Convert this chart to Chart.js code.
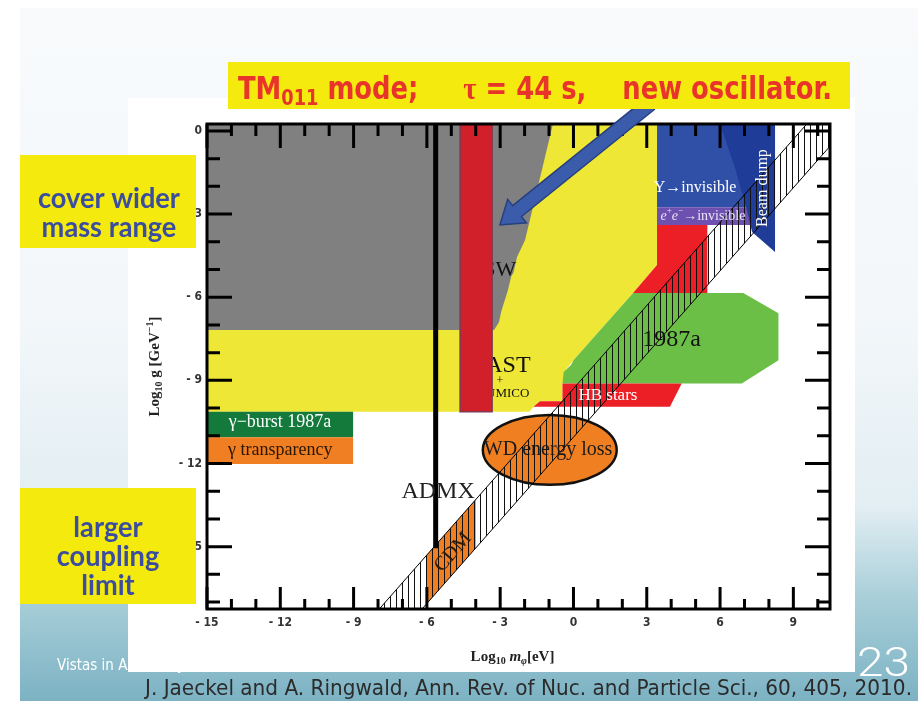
<!DOCTYPE html>
<html>
<head>
<meta charset="utf-8">
<script src="https://cdn.jsdelivr.net/npm/chart.js@4.4.1/dist/chart.umd.min.js"></script>
<style>
html, body { margin: 0; padding: 0; background: #fff; overflow: hidden; }
canvas { display: block; }
</style>
</head>
<body>
<canvas id="slide" width="918" height="701"></canvas>
<script>
// axis ranges and tick labels (log10 m [eV], log10 g [GeV^-1])
var xRange = [-15, 10.5];
var yRange = [-17.25, 0.25];
var xTicks = [-15, -12, -9, -6, -3, 0, 3, 6, 9];
var xTickLabels = ['- 15', '- 12', '- 9', '- 6', '- 3', '0', '3', '6', '9'];
var yTicks = [0, -3, -6, -9, -12, -15];
var yTickLabels = ['0', '- 3', '- 6', '- 9', '- 12', '- 15'];

// excluded regions, corners as [log10 m, log10 g]
var yellowRegion = [[-15, 0.25], [3.42, 0.25], [3.42, -4.84], [2.44, -5.85], [0, -8.27], [-0.3, -8.6], [-0.45, -9.11], [-0.45, -9.75], [-1.37, -9.75], [-1.64, -9.95], [-1.8, -10.13], [-15, -10.13]];
var lswRegion = [[-15, 0.25], [-0.84, 0.25], [-1.98, -3.94], [-2.31, -4.55], [-2.45, -5.1], [-2.55, -5.25], [-2.68, -5.74], [-2.95, -6.5], [-3.05, -6.9], [-3.25, -7.18], [-15, -7.18]];
var upsilonRegion = [[3.42, 0.25], [8.25, 0.25], [8.25, -2.75], [3.42, -2.75]];
var eeRegion = [[3.42, -2.75], [7.31, -2.75], [7.31, -3.39], [3.42, -3.39]];
var beamDump = [[6.0, 0.25], [8.25, 0.25], [8.25, -4.37], [7.31, -3.65], [7.1, -2.85], [6.6, -1.3]];
var redRegion = [[3.42, -3.39], [5.48, -3.39], [5.48, -5.85], [2.44, -5.85], [3.42, -4.84]];
var sn1987a = [[2.44, -5.85], [6.95, -5.85], [8.39, -6.58], [8.39, -8.27], [6.89, -9.11], [-0.45, -9.11], [-0.4, -8.7], [-0.1, -8.45], [0, -8.27]];
var hbStars = [[-0.45, -9.11], [4.43, -9.11], [3.95, -9.95], [-1.64, -9.95], [-1.37, -9.75], [-0.45, -9.75]];
var gammaBurst = [[-15, -10.13], [-9.02, -10.13], [-9.02, -11.05], [-15, -11.05]];
var gammaTransp = [[-15, -11.05], [-9.02, -11.05], [-9.02, -12.02], [-15, -12.02]];
var oscillator = [[-4.64, 0.25], [-3.33, 0.25], [-3.33, -10.13], [-4.64, -10.13], [-4.64, 0.25]];
var cdmRegion = [[-6, -17.05], [-6, -15.3], [-4, -13.3], [-4, -15.05]];
var axionBand = [[-9, -18.3], [11, 1.7], [13, 1.95], [-7.2, -18.25]];
var admxLine = [[-5.64, 0.25], [-5.64, -15.06]];
var wdCenter = [-0.97, -11.51];
var wdRadii = [2.74, 1.26];
var arrowFrom = [3.13, 0.97];
var arrowTo = [-3.01, -3.39];

var SERIF = '"Liberation Serif", "Times New Roman", serif';
var NARROW = '"Liberation Sans Narrow", "DejaVu Sans Condensed", "Arial Narrow", sans-serif';

var canvas = document.getElementById('slide');
var hatch = document.createElement('canvas');
hatch.width = 6; hatch.height = 6;
var hc = hatch.getContext('2d');
hc.fillStyle = '#111';
hc.fillRect(0, 0, 1, 6);
var hatchPattern = canvas.getContext('2d').createPattern(hatch, 'repeat');

// painting order, bottom first
var layers = [
  {name: 'yellow', pts: yellowRegion, color: '#efe735'},
  {name: 'LSW', pts: lswRegion, color: '#808080'},
  {name: 'Upsilon', pts: upsilonRegion, color: '#2f50a6'},
  {name: 'ee', pts: eeRegion, color: '#6d50b0'},
  {name: 'Beam dump', pts: beamDump, color: '#1f3c98'},
  {name: 'red', pts: redRegion, color: '#ec1f26'},
  {name: '1987a', pts: sn1987a, color: '#6bbf47'},
  {name: 'HB stars', pts: hbStars, color: '#ec1f26'},
  {name: 'gamma burst', pts: gammaBurst, color: '#137a3b'},
  {name: 'gamma transparency', pts: gammaTransp, color: '#f07e22'},
  {name: 'oscillator', pts: oscillator, color: '#d1202a', border: '#7d3a52', lw: 1.5},
  {name: 'CDM', pts: cdmRegion, color: '#f07e22'},
  {name: 'band', pts: axionBand, color: hatchPattern, border: '#000', lw: 1},
  {name: 'ADMX', pts: admxLine, line: true, border: '#000', lw: 5}
];

var datasets = layers.map(function (l, i) {
  return {
    label: l.name,
    data: l.pts.map(function (p) { return {x: p[0], y: p[1]}; }),
    fill: l.line ? false : 'shape',
    backgroundColor: l.color || 'transparent',
    borderColor: l.border || l.color,
    borderWidth: l.lw || 0,
    pointRadius: 0,
    tension: 0,
    order: layers.length - i
  };
});

// texts hidden partly under the red bar
var behindLabels = [
  {t: 'LSW', x: -3.29, y: -5.02, size: 22},
  {t: 'CAST', x: -3.01, y: -8.48, size: 24},
  {t: '+', x: -3.01, y: -9.02, size: 12},
  {t: 'SUMICO', x: -2.84, y: -9.49, size: 13}
];
var topLabels = [
  {t: '1987a', x: 4.02, y: -7.55, size: 24, color: '#111'},
  {t: 'HB stars', x: 1.41, y: -9.53, size: 17, color: '#fff'},
  {t: 'WD energy loss', x: -1.04, y: -11.51, size: 20, color: '#1a1a1a'},
  {t: 'ADMX', x: -5.54, y: -13.03, size: 24, color: '#222'},
  {t: 'CDM', x: -4.93, y: -15.2, size: 20, color: '#2a1a0a', along: true},
  {t: '\u03A5\u2192invisible', x: 4.98, y: -2.06, size: 16, color: '#fff'},
  {t: 'Beam dump', x: 7.76, y: -2.06, size: 16, color: '#fff', rot: -Math.PI / 2},
  {t: '\u03B3\u2212burst 1987a', x: -12.01, y: -10.53, size: 18, color: '#fff'},
  {t: '\u03B3 transparency', x: -12.0, y: -11.51, size: 18, color: '#2a1600'}
];

function drawLabel(chart, l) {
  var ctx = chart.ctx, x = chart.scales.x, y = chart.scales.y;
  ctx.save();
  ctx.translate(x.getPixelForValue(l.x), y.getPixelForValue(l.y));
  if (l.along) {
    ctx.rotate(Math.atan2(y.getPixelForValue(1) - y.getPixelForValue(0), x.getPixelForValue(1) - x.getPixelForValue(0)));
  } else if (l.rot) {
    ctx.rotate(l.rot);
  }
  ctx.font = l.size + 'px ' + SERIF;
  ctx.fillStyle = l.color || '#111';
  ctx.textAlign = 'center';
  ctx.textBaseline = 'middle';
  ctx.fillText(l.t, 0, 0);
  ctx.restore();
}

// run of text with mixed fonts, centred on (x, y)
function rich(ctx, segs, x, y, rot, color) {
  ctx.save();
  ctx.translate(x, y);
  if (rot) ctx.rotate(rot);
  var w = 0;
  segs.forEach(function (s) { ctx.font = s.f; s.w = ctx.measureText(s.t).width; w += s.w; });
  ctx.textBaseline = 'middle';
  ctx.textAlign = 'left';
  ctx.fillStyle = color;
  var cx = -w / 2;
  segs.forEach(function (s) { ctx.font = s.f; ctx.fillText(s.t, cx, s.dy || 0); cx += s.w; });
  ctx.restore();
}

// text squeezed to a given width, left edge at x, baseline y
function fitText(ctx, segs, x, y, width, color) {
  var w = 0;
  segs.forEach(function (s) { ctx.font = s.f; s.w = ctx.measureText(s.t).width; w += s.w; });
  ctx.save();
  ctx.translate(x, y);
  ctx.scale(width / w, 1);
  ctx.fillStyle = color;
  ctx.textBaseline = 'alphabetic';
  ctx.textAlign = 'left';
  var cx = 0;
  segs.forEach(function (s) { ctx.font = s.f; ctx.fillText(s.t, cx, s.dy || 0); cx += s.w; });
  ctx.restore();
}

function boxLines(ctx, lines, cx, baselines, sx, font, color) {
  ctx.save();
  ctx.font = font;
  ctx.fillStyle = color;
  ctx.textAlign = 'center';
  ctx.textBaseline = 'alphabetic';
  lines.forEach(function (t, i) {
    ctx.save();
    ctx.translate(cx, baselines[i]);
    ctx.scale(sx, 1);
    ctx.fillText(t, 0, 0);
    ctx.restore();
  });
  ctx.restore();
}

function drawEllipse(chart) {
  var ctx = chart.ctx, x = chart.scales.x, y = chart.scales.y;
  var cx = x.getPixelForValue(wdCenter[0]), cy = y.getPixelForValue(wdCenter[1]);
  var rx = Math.abs(x.getPixelForValue(wdCenter[0] + wdRadii[0]) - cx);
  var ry = Math.abs(y.getPixelForValue(wdCenter[1] + wdRadii[1]) - cy);
  ctx.save();
  ctx.beginPath();
  ctx.ellipse(cx, cy, rx, ry, 0, 0, 2 * Math.PI);
  ctx.fillStyle = '#f07f22';
  ctx.fill();
  ctx.lineWidth = 2.5;
  ctx.strokeStyle = '#111';
  ctx.stroke();
  ctx.restore();
}

function drawArrow(chart) {
  var ctx = chart.ctx, x = chart.scales.x, y = chart.scales.y;
  var x0 = x.getPixelForValue(arrowFrom[0]), y0 = y.getPixelForValue(arrowFrom[1]);
  var x1 = x.getPixelForValue(arrowTo[0]), y1 = y.getPixelForValue(arrowTo[1]);
  var len = Math.hypot(x1 - x0, y1 - y0), hl = 22, hw = 15, sw = 7;
  ctx.save();
  ctx.translate(x0, y0);
  ctx.rotate(Math.atan2(y1 - y0, x1 - x0));
  ctx.beginPath();
  ctx.moveTo(0, -sw);
  ctx.lineTo(len - hl, -sw);
  ctx.lineTo(len - hl, -hw);
  ctx.lineTo(len, 0);
  ctx.lineTo(len - hl, hw);
  ctx.lineTo(len - hl, sw);
  ctx.lineTo(0, sw);
  ctx.closePath();
  ctx.fillStyle = '#3b5bab';
  ctx.fill();
  ctx.lineWidth = 1.5;
  ctx.strokeStyle = '#27407e';
  ctx.stroke();
  ctx.restore();
}

function drawFrame(chart) {
  var ctx = chart.ctx, a = chart.chartArea, x = chart.scales.x, y = chart.scales.y;
  ctx.save();
  ctx.strokeStyle = '#000';
  ctx.lineWidth = 3;
  ctx.beginPath();
  for (var v = Math.ceil(xRange[0]); v <= xRange[1]; v++) {
    var px = x.getPixelForValue(v), len = v % 3 === 0 ? 24 : 12;
    ctx.moveTo(px, a.top); ctx.lineTo(px, a.top + len);
    ctx.moveTo(px, a.bottom); ctx.lineTo(px, a.bottom - len + 2);
  }
  for (var w = Math.floor(yRange[1]); w >= yRange[0]; w--) {
    var py = y.getPixelForValue(w), l2 = w % 3 === 0 ? 25 : 13;
    ctx.moveTo(a.left, py); ctx.lineTo(a.left + l2, py);
    ctx.moveTo(a.right, py); ctx.lineTo(a.right - l2, py);
  }
  ctx.stroke();
  ctx.strokeRect(a.left, a.top, a.right - a.left, a.bottom - a.top);

  ctx.fillStyle = '#333';
  ctx.font = 'bold 12px ' + NARROW;
  ctx.textAlign = 'center';
  ctx.textBaseline = 'middle';
  xTicks.forEach(function (t, i) { ctx.fillText(xTickLabels[i], x.getPixelForValue(t), a.bottom + 14); });
  ctx.textAlign = 'right';
  yTicks.forEach(function (t, i) { ctx.fillText(yTickLabels[i], a.left - 5, y.getPixelForValue(t)); });
  ctx.restore();

  var b = 'bold 15px ' + SERIF, s = 'bold 10px ' + SERIF;
  rich(ctx, [{t: 'Log', f: b}, {t: '10', f: s, dy: 4}, {t: ' g [GeV', f: b}, {t: '\u22121', f: s, dy: -5}, {t: ']', f: b}],
    a.left - 52, (a.top + a.bottom) / 2, -Math.PI / 2, '#222');
  rich(ctx, [{t: 'Log', f: b}, {t: '10', f: s, dy: 4}, {t: ' ', f: b}, {t: 'm', f: 'italic ' + b}, {t: '\u03C6', f: 'italic ' + s, dy: 4}, {t: '[eV]', f: b}],
    (a.left + a.right) / 2 - 6, a.bottom + 48, 0, '#222');
}

var slidePlugin = {
  id: 'slide',
  beforeDraw: function (chart) {
    var ctx = chart.ctx;
    ctx.save();
    ctx.fillStyle = '#fff';
    ctx.fillRect(0, 0, 918, 701);
    var g = ctx.createLinearGradient(0, 8, 0, 701);
    g.addColorStop(0, '#f8fafc');
    g.addColorStop(0.45, '#f3f7fa');
    g.addColorStop(0.72, '#e2eef3');
    g.addColorStop(0.85, '#a9cfd9');
    g.addColorStop(1, '#7cb2c3');
    ctx.fillStyle = g;
    ctx.fillRect(20, 8, 898, 693);
    ctx.fillStyle = '#fff';
    ctx.font = '15px ' + NARROW;
    ctx.fillText('Vistas in Axion Physics', 57, 670);
    ctx.fillRect(128, 98, 727, 574);
    ctx.restore();
  },
  afterDatasetDraw: function (chart, args) {
    var name = chart.data.datasets[args.index].label;
    if (name === 'HB stars') {
      behindLabels.forEach(function (l) { drawLabel(chart, l); });
    }
    if (name === 'CDM') drawEllipse(chart);
  },
  afterDatasetsDraw: function (chart) {
    var ctx = chart.ctx, x = chart.scales.x, y = chart.scales.y;
    topLabels.forEach(function (l) { drawLabel(chart, l); });
    rich(ctx, [
      {t: 'e', f: 'italic 14px ' + SERIF}, {t: '+', f: '9px ' + SERIF, dy: -5},
      {t: 'e', f: 'italic 14px ' + SERIF}, {t: '\u2212', f: '9px ' + SERIF, dy: -5},
      {t: '\u2192invisible', f: '14px ' + SERIF}
    ], x.getPixelForValue(5.30), y.getPixelForValue(-3.07), 0, 'rgba(255,255,255,0.85)');
    drawFrame(chart);
    drawArrow(chart);
  },
  afterDraw: function (chart) {
    var ctx = chart.ctx;
    ctx.save();
    // title banner
    ctx.fillStyle = '#f4ea0e';
    ctx.fillRect(228, 62, 622, 47);
    var tb = 'bold 32px ' + NARROW;
    fitText(ctx, [
      {t: 'TM', f: tb}, {t: '011', f: 'bold 22px ' + NARROW, dy: 6},
      {t: ' mode;     ', f: tb}, {t: '\u03C4', f: 'bold 32px ' + SERIF},
      {t: ' = 44 s,    new oscillator.', f: tb}
    ], 238, 99, 594, '#e8342a');

    // side notes
    ctx.fillStyle = '#f4ea0e';
    ctx.fillRect(20, 155, 176, 93);
    ctx.fillRect(20, 488, 176, 116);
    var sf = 'bold 28px Lato, "Open Sans", sans-serif';
    ctx.font = sf;
    var sx = 142 / ctx.measureText('cover wider').width;
    boxLines(ctx, ['cover wider', 'mass range'], 109, [208, 237], sx, sf, '#3b4d9f');
    boxLines(ctx, ['larger', 'coupling', 'limit'], 108, [537, 566, 595], sx, sf, '#3b4d9f');

    // citation and page number
    fitText(ctx, [{t: 'J. Jaeckel and A. Ringwald, Ann. Rev. of Nuc. and Particle Sci., 60, 405, 2010.', f: '21px ' + NARROW}],
      145, 695, 767, '#2b2b2b');
    fitText(ctx, [{t: '23', f: '300 41px Roboto, Lato, sans-serif'}], 857, 676, 53, '#fff');
    ctx.restore();
  }
};

new Chart(canvas, {
  type: 'line',
  data: {datasets: datasets},
  options: {
    responsive: false,
    animation: false,
    events: [],
    layout: {padding: {left: 207, top: 124, right: 88, bottom: 92}},
    plugins: {legend: {display: false}, tooltip: {enabled: false}},
    scales: {
      x: {type: 'linear', min: xRange[0], max: xRange[1], display: false},
      y: {type: 'linear', min: yRange[0], max: yRange[1], display: false}
    }
  },
  plugins: [slidePlugin]
});
</script>
</body>
</html>
